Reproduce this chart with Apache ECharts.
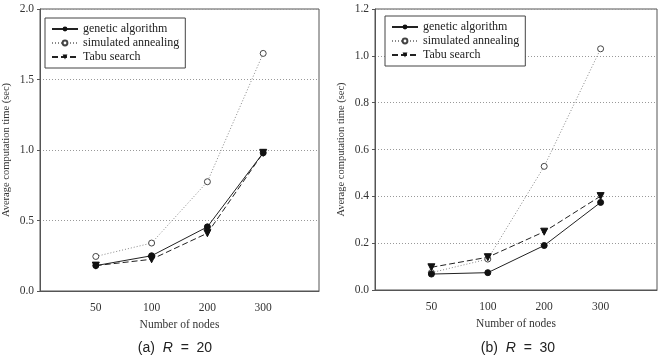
<!DOCTYPE html>
<html><head><meta charset="utf-8">
<script src="https://cdn.jsdelivr.net/npm/echarts@6/dist/echarts.min.js"></script>
<style>html,body{margin:0;padding:0;background:#fff}#c{width:661px;height:361px}</style>
</head><body><div id="c"></div>
<script>
const xTickLabels = ['50', '100', '200', '300'];
const xPositions = [1, 2, 3, 4];
const seriesNames = ['genetic algorithm', 'simulated annealing', 'Tabu search'];
// (a) R = 20
const gaA = [0.18, 0.25, 0.455, 0.98];
const saA = [0.245, 0.34, 0.775, 1.685];
const tsA = [0.18, 0.225, 0.41, 0.98];
// (b) R = 30
const gaB = [0.068, 0.074, 0.19, 0.374];
const saB = [0.074, 0.132, 0.528, 1.03];
const tsB = [0.097, 0.14, 0.249, 0.401];

const font = 'Liberation Serif';
const chart = echarts.init(document.getElementById('c'), null, {renderer: 'canvas'});
const pair = (vals) => vals.map((v, i) => [xPositions[i], v]);

function xAxis(gi) {
  return {
    type: 'value', gridIndex: gi, min: 0, max: 5, interval: 1,
    name: 'Number of nodes', nameLocation: 'middle', nameGap: 27,
    nameTextStyle: {fontFamily: font, fontSize: 11.5, color: '#333'},
    axisLine: {show: true, lineStyle: {color: '#555', width: 1}},
    axisTick: {show: false},
    splitLine: {show: false},
    axisLabel: {fontFamily: font, fontSize: 11.5, color: '#333', margin: 11,
      formatter: v => (v >= 1 && v <= 4) ? xTickLabels[v - 1] : ''}
  };
}
function yAxis(gi, max, interval, dec) {
  return {
    type: 'value', gridIndex: gi, min: 0, max: max, interval: interval,
    name: 'Average computation time (sec)', nameLocation: 'middle', nameRotate: 90, nameGap: 28,
    nameTextStyle: {fontFamily: font, fontSize: 10.5, color: '#333'},
    axisLine: {show: true, lineStyle: {color: '#555', width: 1}},
    axisTick: {show: true, inside: false, length: 3, lineStyle: {color: '#555'}},
    splitLine: {show: true, lineStyle: {color: '#999', type: [1, 2], width: 1}},
    axisLabel: {fontFamily: font, fontSize: 11.5, color: '#333', margin: 6,
      formatter: v => v.toFixed(dec)}
  };
}
function mk(name, data, xi, kind) {
  const base = {name: name, type: 'line', data: pair(data), xAxisIndex: xi, yAxisIndex: xi,
    symbolSize: 6, z: kind === 0 ? 3 : 2, animation: false};
  if (kind === 0) {
    base.symbol = 'circle';
    base.lineStyle = {color: '#222', width: 1, type: 'solid'};
    base.itemStyle = {color: '#111', borderColor: '#111'};
  } else if (kind === 1) {
    base.symbol = 'circle';
    base.symbolSize = 6;
    base.lineStyle = {color: '#888', width: 1, type: [1, 2]};
    base.itemStyle = {color: '#fff', borderColor: '#444', borderWidth: 1};
  } else {
    base.symbol = 'triangle';
    base.symbolRotate = 180;
    base.symbolSize = 7;
    base.lineStyle = {color: '#222', width: 1, type: [6, 3]};
    base.itemStyle = {color: '#111', borderColor: '#111'};
  }
  return base;
}
function legend(left, top) {
  return {
    data: seriesNames, orient: 'vertical', left: left, top: top,
    itemWidth: 26, itemHeight: 6, itemGap: 2,
    padding: [5, 6, 5, 6],
    borderColor: '#444', borderWidth: 1, backgroundColor: '#fff',
    textStyle: {fontFamily: font, fontSize: 12, color: '#222'},
    selectedMode: false
  };
}
chart.setOption({
  animation: false,
  backgroundColor: '#fff',
  grid: [
    {left: 36, top: 9, width: 283, height: 282, show: true, borderColor: '#555', borderWidth: 1, backgroundColor: 'transparent'},
    {left: 375, top: 9, width: 282, height: 281, show: true, borderColor: '#555', borderWidth: 1, backgroundColor: 'transparent'}
  ],
  xAxis: [xAxis(0), xAxis(1)],
  yAxis: [yAxis(0, 2.0, 0.5, 1), yAxis(1, 1.2, 0.2, 1)],
  legend: [legend(45, 18), legend(385, 16)],
  title: [
    {text: '(a)  {i|R}  =  20', left: 170, top: 336, textAlign: 'center',
     textStyle: {fontFamily: 'Liberation Sans', fontSize: 14, fontWeight: 'normal', color: '#222',
       rich: {i: {fontStyle: 'italic', fontFamily: 'Liberation Sans', fontSize: 14, color: '#222'}}}},
    {text: '(b)  {i|R}  =  30', left: 513, top: 336, textAlign: 'center',
     textStyle: {fontFamily: 'Liberation Sans', fontSize: 14, fontWeight: 'normal', color: '#222',
       rich: {i: {fontStyle: 'italic', fontFamily: 'Liberation Sans', fontSize: 14, color: '#222'}}}}
  ],
  series: [
    mk(seriesNames[0], gaA, 0, 0), mk(seriesNames[1], saA, 0, 1), mk(seriesNames[2], tsA, 0, 2),
    mk(seriesNames[0], gaB, 1, 0), mk(seriesNames[1], saB, 1, 1), mk(seriesNames[2], tsB, 1, 2)
  ]
});
</script></body></html>
